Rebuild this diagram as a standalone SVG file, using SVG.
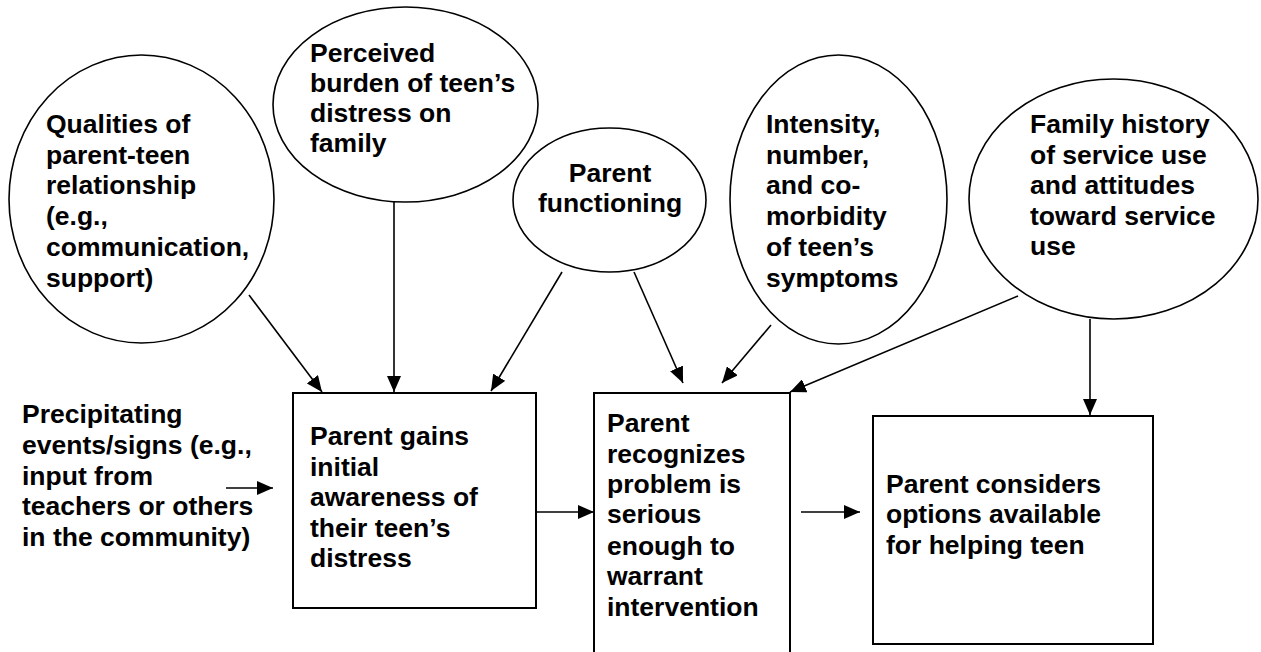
<svg xmlns="http://www.w3.org/2000/svg" width="1261" height="652" viewBox="0 0 1261 652">
<style>
.n ellipse{fill:#fff;stroke:#000;stroke-width:1.6}
.n rect{fill:#fff;stroke:#000;stroke-width:2}
text{font-family:"Liberation Sans",Arial,sans-serif;font-weight:bold;font-size:26.5px;fill:#000}
.c line{stroke:#000;stroke-width:1.6;marker-end:url(#ah)}
</style>
<defs>
<marker id="ah" viewBox="0 0 16 14" refX="16" refY="7" markerWidth="16" markerHeight="14" markerUnits="userSpaceOnUse" orient="auto">
<path d="M0,0 L16,7 L0,14 z" fill="#000"/>
</marker>
</defs>
<rect width="1261" height="652" fill="#fff"/>
<g id="qualities" class="n">
<ellipse cx="141.5" cy="199" rx="132.5" ry="144"/>
<text><tspan x="46" y="133">Qualities of</tspan><tspan x="46" y="164">parent-teen</tspan><tspan x="46" y="194">relationship</tspan><tspan x="46" y="225">(e.g.,</tspan><tspan x="46" y="256">communication,</tspan><tspan x="46" y="287">support)</tspan></text>
</g>
<g id="burden" class="n">
<ellipse cx="405.5" cy="104.5" rx="132.5" ry="97.5"/>
<text><tspan x="310" y="62">Perceived</tspan><tspan x="310" y="92">burden of teen’s</tspan><tspan x="310" y="122">distress on</tspan><tspan x="310" y="152">family</tspan></text>
</g>
<g id="functioning" class="n">
<ellipse cx="609.5" cy="200" rx="96.5" ry="72"/>
<text text-anchor="middle"><tspan x="610" y="182">Parent</tspan><tspan x="610" y="212">functioning</tspan></text>
</g>
<g id="intensity" class="n">
<ellipse cx="838.5" cy="199.5" rx="108.5" ry="144.5"/>
<text><tspan x="766" y="133">Intensity,</tspan><tspan x="766" y="164">number,</tspan><tspan x="766" y="194">and co-</tspan><tspan x="766" y="225">morbidity</tspan><tspan x="766" y="256">of teen’s</tspan><tspan x="766" y="287">symptoms</tspan></text>
</g>
<g id="family" class="n">
<ellipse cx="1113.5" cy="199" rx="144.5" ry="120"/>
<text><tspan x="1030" y="133">Family history</tspan><tspan x="1030" y="164">of service use</tspan><tspan x="1030" y="194">and attitudes</tspan><tspan x="1030" y="225">toward service</tspan><tspan x="1030" y="255">use</tspan></text>
</g>
<g id="precipitating">
<text><tspan x="22" y="423">Precipitating</tspan><tspan x="22" y="454">events/signs (e.g.,</tspan><tspan x="22" y="485">input from</tspan><tspan x="22" y="515">teachers or others</tspan><tspan x="22" y="546">in the community)</tspan></text>
</g>
<g id="awareness" class="n">
<rect x="293" y="393" width="243" height="215"/>
<text><tspan x="310" y="445">Parent gains</tspan><tspan x="310" y="476">initial</tspan><tspan x="310" y="506">awareness of</tspan><tspan x="310" y="537">their teen’s</tspan><tspan x="310" y="567">distress</tspan></text>
</g>
<g id="recognizes" class="n">
<rect x="594" y="393" width="196" height="270"/>
<text><tspan x="607" y="432">Parent</tspan><tspan x="607" y="463">recognizes</tspan><tspan x="607" y="493">problem is</tspan><tspan x="607" y="523">serious</tspan><tspan x="607" y="555">enough to</tspan><tspan x="607" y="585">warrant</tspan><tspan x="607" y="616">intervention</tspan></text>
</g>
<g id="considers" class="n">
<rect x="873" y="416" width="280" height="228"/>
<text><tspan x="886" y="493">Parent considers</tspan><tspan x="886" y="523">options available</tspan><tspan x="886" y="554">for helping teen</tspan></text>
</g>
<g id="connectors" class="c">
<line x1="249" y1="295" x2="322" y2="392"/>
<line x1="394" y1="202" x2="394" y2="392"/>
<line x1="562" y1="272" x2="491" y2="391"/>
<line x1="634" y1="272" x2="683" y2="383"/>
<line x1="771" y1="325" x2="722" y2="383"/>
<line x1="1018" y1="296" x2="790" y2="392"/>
<line x1="1090" y1="319" x2="1090" y2="415"/>
<line x1="226" y1="488" x2="273" y2="488"/>
<line x1="536" y1="512" x2="594" y2="512"/>
<line x1="801" y1="512" x2="860" y2="512"/>
</g>
</svg>
